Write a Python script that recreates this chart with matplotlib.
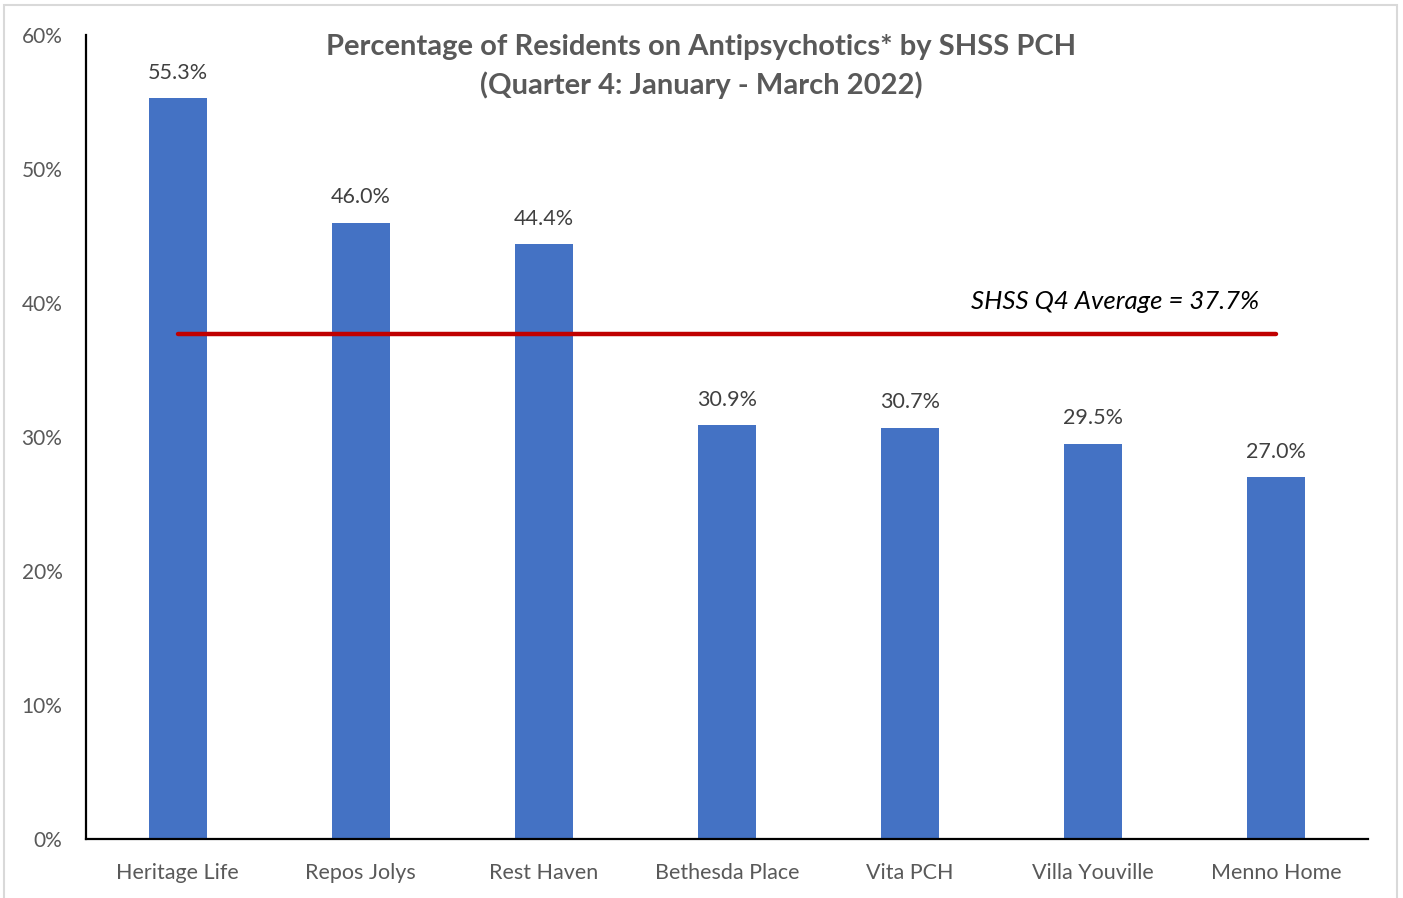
import matplotlib.pyplot as plt
from matplotlib.patches import Rectangle
from matplotlib.ticker import PercentFormatter

plt.rcParams['font.family'] = ['Lato', 'DejaVu Sans']

# Data
homes = ['Heritage Life', 'Repos Jolys', 'Rest Haven', 'Bethesda Place',
         'Vita PCH', 'Villa Youville', 'Menno Home']
pct_antipsychotics = [55.3, 46.0, 44.4, 30.9, 30.7, 29.5, 27.0]
shss_average = 37.7

fig = plt.figure(figsize=(14.03, 8.98), dpi=100)
ax = fig.add_axes([0.0613, 0.0657, 0.9137, 0.8953])

positions = range(len(homes))
bars = ax.bar(positions, pct_antipsychotics, width=0.317, color='#4472C4', zorder=2)

# Average line, drawn from the first to the last bar
ax.plot([0, len(homes) - 1], [shss_average, shss_average], color='#C00000',
        linewidth=3.2, solid_capstyle='round', zorder=3)
ax.text(5.12, 40.1, f'SHSS Q4 Average = {shss_average}%', style='italic',
        fontsize=18.5, color='black', ha='center', va='center')

# Value labels
for bar, val in zip(bars, pct_antipsychotics):
    ax.annotate(f'{val:.1f}%', (bar.get_x() + bar.get_width() / 2, val),
                xytext=(0, 11), textcoords='offset points',
                ha='center', va='bottom', fontsize=15.5, color='#404040')

# Axes
ax.set_xlim(-0.5, len(homes) - 0.5)
ax.set_ylim(0, 60)
ax.set_yticks(range(0, 61, 10))
ax.yaxis.set_major_formatter(PercentFormatter(decimals=0))
ax.set_xticks(list(positions))
ax.set_xticklabels(homes)
ax.tick_params(axis='y', length=0, pad=17, labelsize=15, labelcolor='#595959')
ax.tick_params(axis='x', length=0, pad=17, labelsize=15.5, labelcolor='#595959')
for side in ['top', 'right']:
    ax.spines[side].set_visible(False)
for side in ['left', 'bottom']:
    ax.spines[side].set_linewidth(1.6)
    ax.spines[side].set_color('black')

fig.text(0.5, 0.926, 'Percentage of Residents on Antipsychotics* by SHSS PCH\n'
         '(Quarter 4: January - March 2022)', ha='center', va='center',
         fontsize=21, fontweight='bold', color='#595959', linespacing=1.5)

# Light border around the chart area
fig.patches.append(Rectangle((0.003, -0.01), 0.993, 1.004, transform=fig.transFigure,
                             fill=False, edgecolor='#D9D9D9', linewidth=1.5))

plt.savefig('out.png', dpi=100)
